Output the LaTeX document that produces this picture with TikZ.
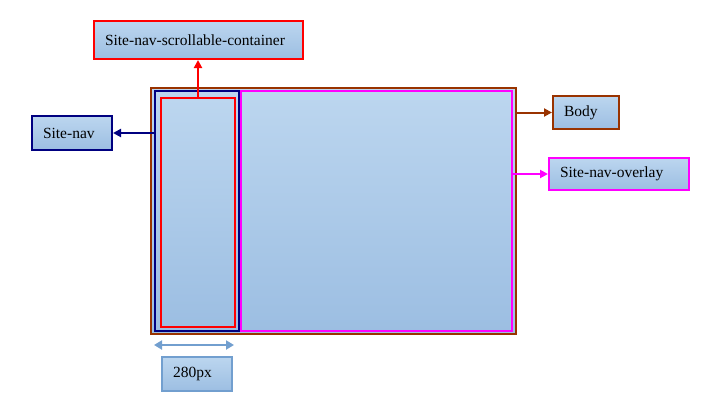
\documentclass[tikz,border=0pt]{standalone}
\usepackage{fontspec}
\setmainfont{Liberation Serif}
\usetikzlibrary{arrows.meta}
\definecolor{brownc}{RGB}{153,51,0}
\definecolor{navyc}{RGB}{0,0,128}
\definecolor{redc}{RGB}{255,0,0}
\definecolor{magc}{RGB}{255,0,255}
\definecolor{steelc}{RGB}{114,159,207}
\definecolor{topc}{RGB}{188,214,239}
\definecolor{botc}{RGB}{156,190,226}
\tikzset{
  grad/.style={top color=topc, bottom color=botc},
  lbl/.style={grad, line width=2pt, inner xsep=11pt, inner ysep=0pt, align=left,
    font=\fontsize{15.5}{18}\selectfont, anchor=north west},
  conn/.style={line width=2pt, -{Triangle[length=8pt,width=8pt]}},
}
\begin{document}
\begin{tikzpicture}[x=1pt,y=-1pt]
\useasboundingbox (0,0) rectangle (714,404);
% main structure
\node[grad, draw=brownc, line width=2pt, minimum width=365pt, minimum height=246pt, inner sep=0pt, anchor=north west] (body) at (150,87) {};
\node[grad, draw=navyc, line width=2pt, minimum width=84pt, minimum height=240pt, inner sep=0pt, anchor=north west] (nav) at (154,90) {};
\node[grad, draw=redc, line width=2pt, minimum width=74pt, minimum height=229pt, inner sep=0pt, anchor=north west] (scroll) at (160,97) {};
\node[grad, draw=magc, line width=2pt, minimum width=271pt, minimum height=240pt, inner sep=0pt, anchor=north west] (overlay) at (240,90) {};
% labels
\node[lbl, draw=redc, text width=187pt, minimum height=38pt] (lscroll) at (93,20) {Site-nav-scrollable-container};
\node[lbl, draw=navyc, text width=58pt, minimum height=34pt] (lnav) at (31,115) {Site-nav};
\node[lbl, draw=brownc, text width=44pt, minimum height=33pt] (lbody) at (552,95) {Body};
\node[lbl, draw=magc, text width=118pt, minimum height=32pt] (lover) at (548,157) {Site-nav-overlay};
\node[lbl, draw=steelc, text width=48pt, minimum height=34pt] (lpx) at (161,356) {280px};
% connectors
\draw[conn, redc] (scroll.north) -- (scroll.north |- lscroll.south);
\draw[conn, navyc] (nav.west |- lnav.east) -- (lnav.east);
\draw[conn, brownc] (body.east |- lbody.west) -- (lbody.west);
\draw[conn, magc] (overlay.east |- lover.west) -- (lover.west);
\coordinate (dl) at (154,345);
\coordinate (dr) at (234,345);
\draw[steelc, line width=2pt, {Triangle[length=8pt,width=9pt]}-{Triangle[length=8pt,width=9pt]}] (dl) -- (dr);
\end{tikzpicture}
\end{document}
